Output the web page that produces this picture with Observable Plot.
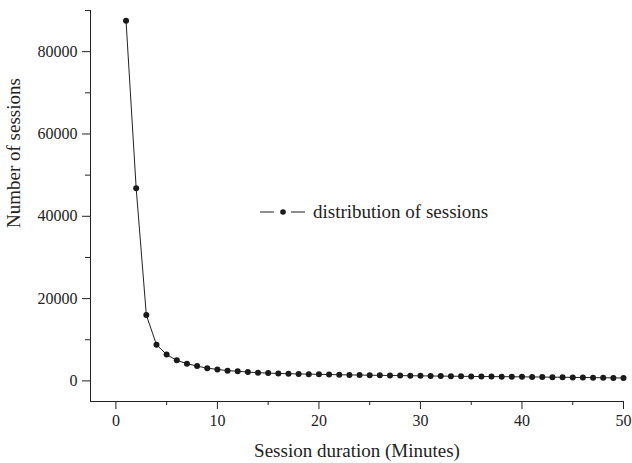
<!DOCTYPE html>
<html><head><meta charset="utf-8">
<script src="https://cdn.jsdelivr.net/npm/d3@7"></script>
<script src="https://cdn.jsdelivr.net/npm/@observablehq/plot@0.6"></script>
<style>
body{margin:0;background:#fff;}
#wrap{position:relative;width:632px;height:463px;}
#legend{position:absolute;left:258px;top:200px;height:24px;font:19px "Liberation Serif",serif;display:flex;align-items:center;color:#222;white-space:nowrap}
#legend svg{margin-right:5px}
</style></head><body><div id="wrap"><div id="legend"></div></div>
<script>
const minutes = [1,2,3,4,5,6,7,8,9,10,11,12,13,14,15,16,17,18,19,20,21,22,23,24,25,26,27,28,29,30,31,32,33,34,35,36,37,38,39,40,41,42,43,44,45,46,47,48,49,50];
const sessions = [87500,46800,16000,8800,6400,5000,4200,3600,3100,2800,2500,2350,2150,2000,1900,1800,1750,1700,1650,1600,1550,1500,1450,1420,1390,1350,1320,1290,1260,1230,1200,1170,1150,1120,1100,1070,1050,1030,1010,990,960,940,910,890,860,830,800,770,740,710];
const xTicks = [0,10,20,30,40,50];
const xMinorTicks = [5,15,25,35,45];
const yTicks = [0,20000,40000,60000,80000];
const yMinorTicks = [10000,30000,50000,70000,90000];
const xLabel = "Session duration (Minutes)";
const yLabel = "Number of sessions";
const seriesLabel = "distribution of sessions";

const data = minutes.map((m, i) => ({minute: m, count: sessions[i]}));
const ink = "#222";

const chart = Plot.plot({
  width: 632, height: 463,
  marginLeft: 90, marginRight: 9, marginTop: 10, marginBottom: 62,
  style: {fontFamily: '"Liberation Serif", "Times New Roman", serif', fontSize: "16px", color: ink, background: "white"},
  x: {domain: [-2.5, 50]},
  y: {domain: [-5000, 90000]},
  marks: [
    Plot.frame({anchor: "left", stroke: ink}),
    Plot.frame({anchor: "bottom", stroke: ink}),
    Plot.axisX({ticks: xTicks, tickSize: 8, tickPadding: 5, tickFormat: d => String(d), label: null, stroke: ink}),
    Plot.axisX({ticks: xMinorTicks, tickSize: 4, tickFormat: () => "", label: null, stroke: ink}),
    Plot.axisX({ticks: [], label: xLabel, labelAnchor: "center", labelArrow: "none", labelOffset: 55, fontSize: 19}),
    Plot.axisY({ticks: yTicks, tickSize: 8, tickPadding: 5, tickFormat: d => String(d), label: null, stroke: ink}),
    Plot.axisY({ticks: yMinorTicks, tickSize: 5, tickFormat: () => "", label: null, stroke: ink}),
    Plot.text([yLabel], {text: d => d, frameAnchor: "left", rotate: -90, dx: -77, dy: 22, fontSize: 19, fill: ink}),
    Plot.line(data, {x: "minute", y: "count", stroke: ink, strokeWidth: 1}),
    Plot.dot(data, {x: "minute", y: "count", r: 3, fill: "#1a1a1a", stroke: "none"})
  ]
});
const wrap = document.getElementById("wrap");
wrap.insertBefore(chart, wrap.firstChild);
document.getElementById("legend").innerHTML =
  '<svg width="50" height="10"><line x1="2" x2="16" y1="5" y2="5" stroke="#444" stroke-width="1.2"/><circle cx="25" cy="5" r="2.8" fill="#1a1a1a"/><line x1="33" x2="47" y1="5" y2="5" stroke="#444" stroke-width="1.2"/></svg><span></span>';
document.querySelector("#legend span").textContent = seriesLabel;
</script>
</body></html>
